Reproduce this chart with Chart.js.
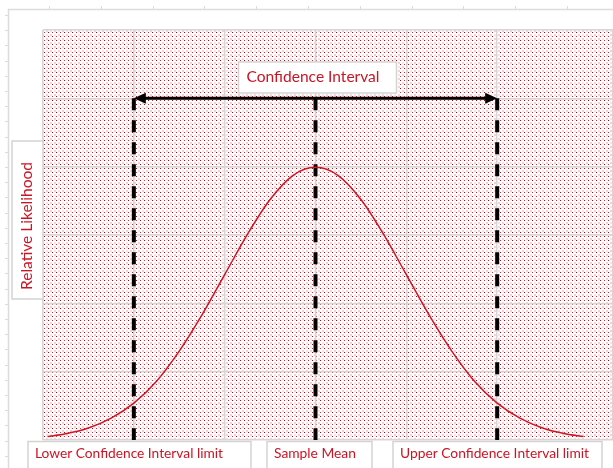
<!DOCTYPE html>
<html>
<head>
<meta charset="utf-8">
<script src="https://cdn.jsdelivr.net/npm/chart.js@4/dist/chart.umd.min.js"></script>
<style>
  html, body { margin:0; padding:0; background:#fff; }
  #c { display:block; }
</style>
</head>
<body>
<canvas id="c" width="613" height="468"></canvas>
<script>
// data (x in standard deviations from the sample mean)
const xValues = [-2.95, -2.75, -2.5, -2.25, -2, -1.75, -1.5, -1.25, -1, -0.75, -0.5, -0.25, 0,
                 0.25, 0.5, 0.75, 1, 1.25, 1.5, 1.75, 2, 2.25, 2.5, 2.75, 2.95];
const likelihood = [0.005, 0.009, 0.0175, 0.032, 0.054, 0.086, 0.13, 0.183, 0.242, 0.301, 0.352, 0.387, 0.399,
                    0.387, 0.352, 0.301, 0.242, 0.183, 0.13, 0.086, 0.054, 0.032, 0.0175, 0.009, 0.005];
const markerValues = [-2, 0, 2];
const markerLabels = ['Lower Confidence Interval limit', 'Sample Mean', 'Upper Confidence Interval limit'];
const intervalLevel = 0.5;
const intervalLabel = 'Confidence Interval';
const yTitle = 'Relative Likelihood';

const RED = '#cc1424';
const FONT = 'Lato, "Open Sans", sans-serif';

function makePattern(ctx){
  const t = document.createElement('canvas');
  t.width = 8; t.height = 8;
  const g = t.getContext('2d');
  g.fillStyle = '#fff'; g.fillRect(0,0,8,8);
  const px = (x,y,w,h,c) => { g.fillStyle = c; g.fillRect(x,y,w,h); };
  // soft pink blocks with small red dots between them
  px(2,2,2,2,'#f7d0d4'); px(6,6,2,2,'#f7d0d4');
  px(6,2,2,2,'#fbe2e5'); px(2,6,2,2,'#fbe2e5');
  px(0,0,1,1,'#b0000e'); px(4,4,1,1,'#b0000e');
  px(4,0,1,1,'#d43040'); px(0,4,1,1,'#d43040');
  return ctx.createPattern(t, 'repeat');
}

function fitFont(ctx, text, width){
  ctx.font = '16px ' + FONT;
  const w = ctx.measureText(text).width;
  return (16 * width / w).toFixed(2) + 'px ' + FONT;
}

function textBox(ctx, x0, y0, w, h){
  ctx.fillStyle = '#fff';
  ctx.fillRect(x0, y0, w, h);
  ctx.strokeStyle = '#d3d3d3';
  ctx.lineWidth = 1.5;
  ctx.strokeRect(x0, y0, w, h);
}

const sheetChrome = {
  id: 'sheetChrome',
  beforeDraw(chart){
    const { ctx, chartArea: a } = chart;
    ctx.save();
    // worksheet ruler lines
    ctx.strokeStyle = '#dcdcdc';
    ctx.lineWidth = 1.5;
    ctx.beginPath();
    ctx.moveTo(8, 9.5); ctx.lineTo(613, 9.5);
    ctx.moveTo(8.5, 9); ctx.lineTo(8.5, 468);
    ctx.stroke();
    ctx.lineWidth = 1;
    ctx.beginPath();
    for (let x = 49; x < 613; x += 51.8) { ctx.moveTo(Math.round(x)+0.5, 6); ctx.lineTo(Math.round(x)+0.5, 9); }
    for (let y = 15; y < 468; y += 15.2) { ctx.moveTo(5, Math.round(y)+0.5); ctx.lineTo(8, Math.round(y)+0.5); }
    ctx.stroke();
    // patterned plot area
    ctx.fillStyle = makePattern(ctx);
    ctx.fillRect(a.left, a.top, a.right - a.left, a.bottom - a.top);
    ctx.restore();
  },
  afterDatasetsDraw(chart){
    const { ctx, scales: { x, y } } = chart;
    const yl = y.getPixelForValue(intervalLevel);
    const xl = x.getPixelForValue(markerValues[0]);
    const xr = x.getPixelForValue(markerValues[2]);
    ctx.save();
    ctx.fillStyle = '#000';
    ctx.beginPath();
    ctx.moveTo(xl, yl); ctx.lineTo(xl + 12, yl - 5.5); ctx.lineTo(xl + 12, yl + 5.5); ctx.closePath();
    ctx.moveTo(xr, yl); ctx.lineTo(xr - 12, yl - 5.5); ctx.lineTo(xr - 12, yl + 5.5); ctx.closePath();
    ctx.fill();
    ctx.restore();
  },
  afterDraw(chart){
    const { ctx, chartArea: a, scales: { x } } = chart;
    ctx.save();
    ctx.textBaseline = 'middle';

    // interval label
    const xm = x.getPixelForValue(markerValues[1]);
    textBox(ctx, xm - 77, 62, 158, 31);
    ctx.font = fitFont(ctx, intervalLabel, 133);
    ctx.fillStyle = RED;
    ctx.textAlign = 'left';
    ctx.fillText(intervalLabel, xm - 69, 77);

    // y title
    textBox(ctx, 12, 141, 31, 158);
    ctx.save();
    ctx.translate(27, 226);
    ctx.rotate(-Math.PI / 2);
    ctx.textAlign = 'center';
    ctx.font = fitFont(ctx, yTitle, 128);
    ctx.fillStyle = RED;
    ctx.fillText(yTitle, 0, 0);
    ctx.restore();

    // bottom labels
    const boxW = [223, 105, 209];
    const txtW = [188, 82, 189];
    const shift = [6, 4, 0];
    markerLabels.forEach((lab, i) => {
      const cx = x.getPixelForValue(markerValues[i]);
      const x0 = Math.round(cx - boxW[i] / 2) + shift[i];
      textBox(ctx, x0, a.bottom + 1.5, boxW[i], 34);
      ctx.font = fitFont(ctx, lab, txtW[i]);
      ctx.fillStyle = RED;
      ctx.textAlign = 'left';
      ctx.fillText(lab, x0 + 7, a.bottom + 14);
    });
    ctx.restore();
  }
};

const curve = xValues.map((v, i) => ({ x: v, y: likelihood[i] }));
const dashed = markerValues.map(v => ({
  data: [{ x: v, y: intervalLevel }, { x: v, y: 0 }],
  borderColor: '#000', borderWidth: 4, borderDash: [12, 10],
  pointRadius: 0, fill: false
}));

new Chart(document.getElementById('c'), {
  type: 'line',
  data: {
    datasets: [
      { data: curve, borderColor: RED, borderWidth: 1.5, pointRadius: 0, cubicInterpolationMode: 'monotone', fill: false },
      ...dashed,
      { data: [{ x: markerValues[0] + 0.1, y: intervalLevel }, { x: markerValues[2] - 0.1, y: intervalLevel }],
        borderColor: '#000', borderWidth: 3, pointRadius: 0, fill: false }
    ]
  },
  options: {
    responsive: false,
    devicePixelRatio: 1,
    animation: false,
    layout: { padding: { left: 43, top: 30, right: 0, bottom: 28 } },
    plugins: { legend: { display: false }, tooltip: { enabled: false } },
    scales: {
      x: {
        type: 'linear', min: -3, max: 3.275,
        ticks: { display: false, stepSize: 1 },
        grid: { color: '#d6d6d6', lineWidth: 1.5, drawTicks: false },
        border: { display: false }
      },
      y: {
        min: 0, max: 0.6,
        ticks: { display: false, stepSize: 0.1 },
        grid: { color: '#d6d6d6', lineWidth: 1.5, drawTicks: false },
        border: { display: false }
      }
    }
  },
  plugins: [sheetChrome]
});
</script>
</body>
</html>
